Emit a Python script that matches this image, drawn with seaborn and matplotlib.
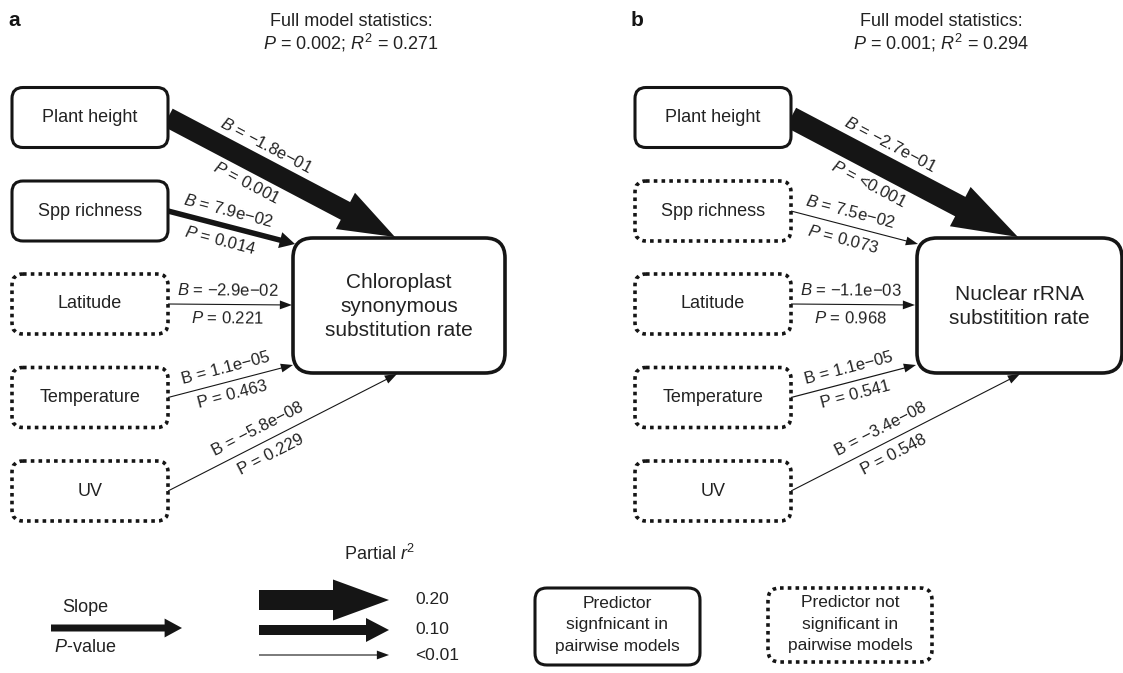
import numpy as np
import pandas as pd
import matplotlib
matplotlib.use("Agg")
import matplotlib.pyplot as plt
import seaborn as sns
from matplotlib.patches import FancyBboxPatch, FancyArrow

# ---------------- data ----------------
predictors = ["Plant height", "Spp richness", "Latitude", "Temperature", "UV"]
responses = ["Chloroplast\nsynonymous\nsubstitution rate", "Nuclear rRNA\nsubstitition rate"]
panel_letters = ["a", "b"]
model_p = ["0.002", "0.001"]
model_r2 = ["0.271", "0.294"]

slope_a = ["−1.8e−01", "7.9e−02", "−2.9e−02", "1.1e−05", "−5.8e−08"]
pval_a = ["0.001", "0.014", "0.221", "0.463", "0.229"]
partial_r2_a = [0.20, 0.055, 0.01, 0.01, 0.01]
signif_a = [True, True, False, False, False]

slope_b = ["−2.7e−01", "7.5e−02", "−1.1e−03", "1.1e−05", "−3.4e−08"]
pval_b = ["<0.001", "0.073", "0.968", "0.541", "0.548"]
partial_r2_b = [0.22, 0.01, 0.01, 0.012, 0.01]
signif_b = [True, False, False, False, False]

legend_r2 = [0.20, 0.10, 0.01]
legend_r2_labels = ["0.20", "0.10", "<0.01"]

panels = pd.DataFrame({
    "letter": panel_letters, "response": responses,
    "p": model_p, "r2": model_r2,
})
slopes = [slope_a, slope_b]
pvals = [pval_a, pval_b]
r2s = [partial_r2_a, partial_r2_b]
sigs = [signif_a, signif_b]

# ---------------- style ----------------
sns.set_theme(style="white")
plt.rcParams["font.family"] = ["Liberation Sans", "DejaVu Sans"]
plt.rcParams["mathtext.fontset"] = "custom"
plt.rcParams["mathtext.rm"] = "Liberation Sans"
plt.rcParams["mathtext.it"] = "Liberation Sans:italic"
plt.rcParams["mathtext.bf"] = "Liberation Sans:bold"

INK = "#151515"
TXT = "#222222"

fig = plt.figure(figsize=(11.23, 6.73), dpi=100)
ax = fig.add_axes([0, 0, 1, 1])
ax.set_xlim(0, 1123)
ax.set_ylim(673, 0)
ax.set_axis_off()
sns.despine(ax=ax, left=True, bottom=True)

PX = 100.0  # px per unit of partial r2 (shaft width)


def head_dims(w):
    return 7 + 1.7 * w, 12 + 0.11 * w * w


def arrow(x0, y0, x1, y1, w):
    hw, hl = head_dims(w)
    a = FancyArrow(x0, y0, x1 - x0, y1 - y0, width=w, head_width=hw,
                   head_length=hl, length_includes_head=True,
                   color=INK, lw=0, zorder=2)
    ax.add_patch(a)


def box(x, y, w, h, solid, r=11, lw=2.2):
    if solid:
        p = FancyBboxPatch((x, y), w, h, boxstyle=f"round,pad=0,rounding_size={r}",
                           fc="white", ec=INK, lw=lw, zorder=3)
    else:
        p = FancyBboxPatch((x, y), w, h, boxstyle=f"round,pad=0,rounding_size={r}",
                           fc="white", ec=INK, lw=2.6, ls=(0, (1, 1.15)), zorder=3)
        p.set_capstyle("butt")
    ax.add_patch(p)


# layout (pixel frame of panel a)
panel_dx = [0, 623]
title_x = [351, 941]
box_x0, box_w, box_h = 12, 156, 60
box_cy = [117.5, 211, 304, 397.5, 491]
tgt_boxes = [(293, 238, 212, 135), (294, 238, 205, 135)]
tgt_pts = [(395, 237), (295, 244), (292, 305), (293, 365), (397, 374)]
lab_frac = [0.39, 0.44, 0.48, 0.49, 0.42]
italic_rows = [True, True, True, False, False]

for i, row in panels.iterrows():
    dx = panel_dx[i]
    ax.text(8 + dx, 20, row["letter"], fontsize=15, fontweight="bold",
            ha="left", va="center", color=INK)
    ax.text(title_x[i], 22, "Full model statistics:", fontsize=13,
            ha="center", va="center", color=TXT)
    ax.text(title_x[i], 43, f"$P$ = {row['p']}; $R^2$ = {row['r2']}",
            fontsize=13, ha="center", va="center", color=TXT)

    tx, ty, tw, th = tgt_boxes[i]
    box(tx + dx, ty, tw, th, True, r=20, lw=2.6)
    ax.text(tx + dx + tw / 2, ty + th / 2 + 1, row["response"], fontsize=15,
            ha="center", va="center", linespacing=1.3, color=TXT, zorder=4)

    for k, name in enumerate(predictors):
        cy = box_cy[k]
        box(box_x0 + dx, cy - box_h / 2, box_w, box_h, sigs[i][k])
        ax.text(box_x0 + dx + box_w / 2, cy, name, fontsize=13,
                ha="center", va="center", color=TXT, zorder=4)

        x0, y0 = box_x0 + box_w + dx, cy
        x1, y1 = tgt_pts[k][0] + dx, tgt_pts[k][1]
        w = max(1.1, r2s[i][k] * PX)
        arrow(x0, y0, x1, y1, w)

        L = np.hypot(x1 - x0, y1 - y0)
        u = np.array([(x1 - x0) / L, (y1 - y0) / L])
        n = np.array([u[1], -u[0]])
        rot = np.degrees(np.arctan2(-(y1 - y0), x1 - x0))
        off = 13.5 + 0.4 * w
        base = np.array([x0, y0]) + u * L * lab_frac[k]
        if italic_rows[k]:
            bl = f"$B$ = {slopes[i][k]}"
            pl = f"$P$ = {pvals[i][k]}"
        else:
            bl = f"B = {slopes[i][k]}"
            pl = f"P = {pvals[i][k]}"
        pb = base + n * off
        pp = base - n * off
        ax.text(pb[0], pb[1], bl, fontsize=12, rotation=rot, rotation_mode="anchor",
                ha="center", va="center", color=TXT, zorder=4)
        ax.text(pp[0], pp[1], pl, fontsize=12, rotation=rot, rotation_mode="anchor",
                ha="center", va="center", color=TXT, zorder=4)

# ---------------- legend ----------------
ax.text(85, 607, "Slope", fontsize=13, ha="center", va="center", color=TXT)
ax.text(85, 648, "$P$-value", fontsize=13, ha="center", va="center", color=TXT)
arrow(51, 628, 182, 628, 7)

ax.text(380, 554, "Partial $r^2$", fontsize=13, ha="center", va="center", color=TXT)
for yy, v, lab in zip([600, 630, 655], legend_r2, legend_r2_labels):
    arrow(259, yy, 389, yy, max(1.1, v * PX))
    ax.text(415, yy, lab, fontsize=12.5, ha="left", va="center", color=TXT)

box(535, 588, 165, 77, True, r=12, lw=2.2)
ax.text(617.5, 625, "Predictor\nsignfnicant in\npairwise models", fontsize=12.5,
        ha="center", va="center", linespacing=1.55, color=TXT, zorder=4)
box(768, 588, 164, 74, False, r=12)
ax.text(850, 624, "Predictor not\nsignificant in\npairwise models", fontsize=12.5,
        ha="center", va="center", linespacing=1.55, color=TXT, zorder=4)

fig.savefig("out.png", dpi=100)
